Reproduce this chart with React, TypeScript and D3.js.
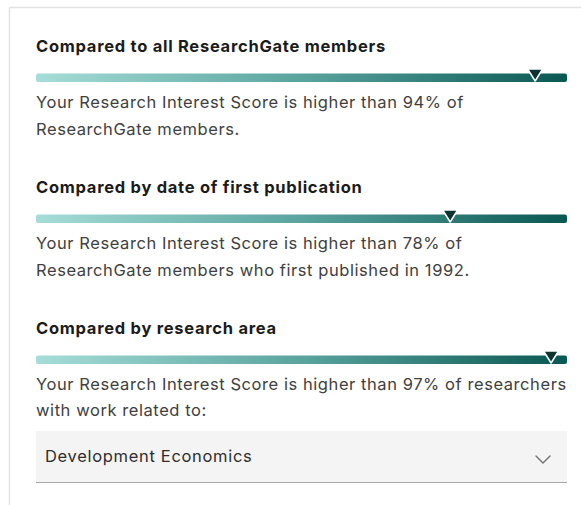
import React from "react";
import * as d3 from "d3";

const titles = [
  "Compared to all ResearchGate members",
  "Compared by date of first publication",
  "Compared by research area",
];
const percentiles = [94, 78, 97];
const lineOne = [
  "Your Research Interest Score is higher than 94% of",
  "Your Research Interest Score is higher than 78% of",
  "Your Research Interest Score is higher than 97% of researchers",
];
const lineTwo = [
  "ResearchGate members.",
  "ResearchGate members who first published in 1992.",
  "with work related to:",
];
const dropdownLabel = "Development Economics";

const W = 581;
const H = 505;
const FONT = "Inter, 'Noto Sans', sans-serif";

export default function App() {
  const x = d3.scaleLinear().domain([0, 100]).range([36, 567]);
  const step = 141;
  const triW = 15;
  const triH = 12;
  return (
    <svg
      width={W}
      height={H}
      style={{ position: "absolute", left: 0, top: 0, background: "#fff" }}
      fontFamily={FONT}
    >
      <defs>
        <linearGradient id="barGrad" x1="0" x2="1" y1="0" y2="0">
          <stop offset="0%" stopColor="#a6ddd8" />
          <stop offset="50%" stopColor="#5aa49e" />
          <stop offset="100%" stopColor="#0a5853" />
        </linearGradient>
      </defs>
      <line x1={10} x2={W} y1={7.5} y2={7.5} stroke="#e2e2e2" strokeWidth={1.5} />
      <line x1={9.5} x2={9.5} y1={7} y2={H} stroke="#e2e2e2" strokeWidth={1.5} />
      {titles.map((t, i) => {
        const oy = i * step;
        const barY = 73.5 + oy;
        const px = x(percentiles[i]);
        const tri = d3.path();
        tri.moveTo(px - triW / 2, barY - 4.5);
        tri.lineTo(px + triW / 2, barY - 4.5);
        tri.lineTo(px, barY - 4.5 + triH);
        tri.closePath();
        return (
          <g key={i}>
            <text x={36} y={52 + oy} fontSize={16.5} letterSpacing={0.73} fontWeight={700} fill="#1b1b1b">
              {t}
            </text>
            <rect
              x={x(0)}
              y={barY}
              width={x(100) - x(0)}
              height={8.5}
              rx={2}
              fill="url(#barGrad)"
            />
            <path d={tri.toString()} fill="#0c3431" stroke="#fff" strokeWidth={1.5} strokeLinejoin="round" />
            <text x={36} y={108 + oy} fontSize={16.5} letterSpacing={0.57} fill="#404040">
              {lineOne[i]}
            </text>
            <text x={36} y={135 + oy - (i === 2 ? 1 : 0)} fontSize={16.5} letterSpacing={0.57} fill="#404040">
              {lineTwo[i]}
            </text>
          </g>
        );
      })}
      <rect x={36} y={431} width={531} height={51} fill="#f4f4f4" />
      <line x1={36} x2={567} y1={482.5} y2={482.5} stroke="#a8a8a8" strokeWidth={1} />
      <text x={45} y={462} fontSize={16.5} letterSpacing={0.68} fill="#2e2e2e">
        {dropdownLabel}
      </text>
      <path
        d="M536,456 L543,463 L550,456"
        fill="none"
        stroke="#777"
        strokeWidth={1.5}
        strokeLinecap="round"
        strokeLinejoin="round"
      />
    </svg>
  );
}
